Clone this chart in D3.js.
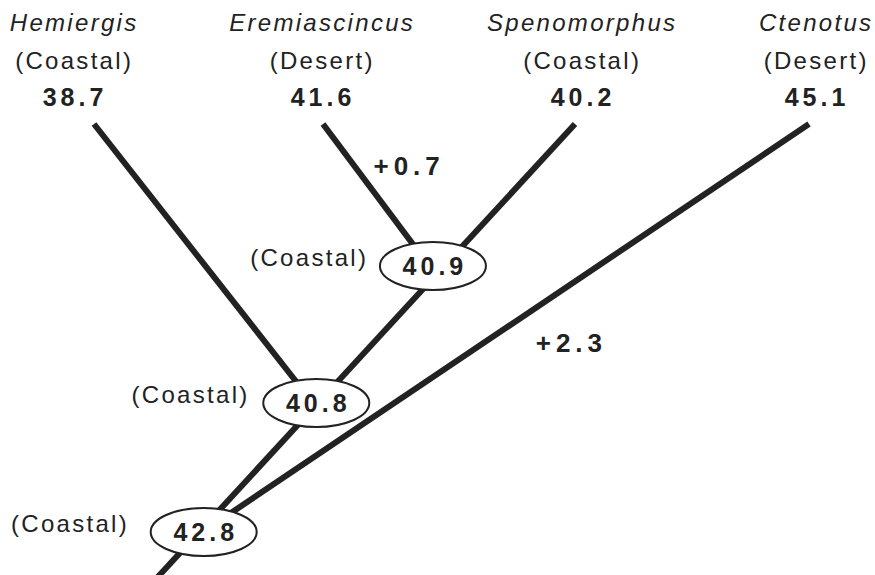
<!DOCTYPE html>
<html>
<head>
<meta charset="utf-8">
<script src="https://cdn.jsdelivr.net/npm/d3@7"></script>
<style>
  html, body { margin: 0; padding: 0; background: #fff; }
  svg { display: block; font-family: "Liberation Sans", Arial, sans-serif; }
</style>
</head>
<body>
<svg id="chart" width="875" height="575"></svg>
<script>
// ---- data ----
const taxa = ["Hemiergis", "Eremiascincus", "Spenomorphus", "Ctenotus"];
const habitats = ["Coastal", "Desert", "Coastal", "Desert"];
const tipValues = [38.7, 41.6, 40.2, 45.1];
const nodeNames = ["n409", "n408", "n428"];
const nodeValues = [40.9, 40.8, 42.8];
const nodeHabitats = ["Coastal", "Coastal", "Coastal"];
const changeBranches = ["Eremiascincus", "Ctenotus"];
const changeLabels = ["+0.7", "+2.3"];

// tree topology (child -> parent)
const parents = {
  Hemiergis: "n408", Eremiascincus: "n409", Spenomorphus: "n409", Ctenotus: "n428",
  n409: "n408", n408: "n428", n428: null
};
const nodeDepth = { n409: 1, n408: 2, n428: 3 };

// ---- layout scales ----
const ink = "#222";
const svg = d3.select("#chart");
const xTip = d3.scaleLinear().domain([0, 1, 2, 3]).range([94, 323, 575, 809]);
const xLabel = d3.scaleLinear().domain([0, 1, 2, 3]).range([73, 321, 581, 815]);
const yDepth = d3.scaleLinear().domain([0, 1, 2, 3, 4]).range([124, 275, 406, 538, 578]);
const yRow = d3.scaleOrdinal().domain(["name", "habitat", "value"]).range([31, 69, 106]);

// main stem: straight line from the Spenomorphus tip down to the root
const stemTop = [xTip(taxa.indexOf("Spenomorphus")), yDepth(0)];
const stemSlope = -0.921; // dx per dy along the stem
const stemX = y => stemTop[0] + (y - stemTop[1]) * stemSlope;

const pos = {};
taxa.forEach((t, i) => { pos[t] = [xTip(i), yDepth(0)]; });
nodeNames.forEach(n => { const y = yDepth(nodeDepth[n]); pos[n] = [stemX(y), y]; });
pos.root = [stemX(yDepth(4)), yDepth(4)];

const g = svg.append("g");

// branches
const branches = Object.keys(parents).filter(k => parents[k]).map(k => ({ child: k, parent: parents[k] }));
branches.push({ child: "n428", parent: "root" });
g.selectAll("line.branch").data(branches).join("line")
  .attr("class", "branch")
  .attr("x1", d => pos[d.child][0]).attr("y1", d => pos[d.child][1])
  .attr("x2", d => pos[d.parent][0]).attr("y2", d => pos[d.parent][1])
  .attr("stroke", ink).attr("stroke-width", 6).attr("stroke-linecap", "butt");

// tip labels
const txtLS = 2.3, numLS = 4;
const tips = taxa.map((t, i) => ({ name: t, habitat: habitats[i], value: tipValues[i], i }));
const tipG = g.selectAll("g.tip").data(tips).join("g").attr("class", "tip")
  .attr("transform", d => `translate(${xLabel(d.i)},0)`);
tipG.append("text").text(d => d.name)
  .attr("y", yRow("name")).attr("text-anchor", "middle").attr("dx", txtLS / 2)
  .attr("font-size", 24).attr("font-style", "italic").attr("letter-spacing", txtLS).attr("fill", ink);
tipG.append("text").text(d => `(${d.habitat})`)
  .attr("y", yRow("habitat")).attr("text-anchor", "middle").attr("dx", txtLS / 2)
  .attr("font-size", 24).attr("letter-spacing", txtLS).attr("fill", ink);
tipG.append("text").text(d => d.value.toFixed(1))
  .attr("y", yRow("value")).attr("text-anchor", "middle").attr("dx", numLS / 2)
  .attr("font-size", 25).attr("font-weight", "bold").attr("letter-spacing", numLS).attr("fill", ink);

// internal nodes
const nodes = nodeNames.map((n, i) => ({ id: n, value: nodeValues[i], habitat: nodeHabitats[i] }));
const rx = 53, ry = 24;
const nodeShift = { n409: [-3, -9], n408: [1, -3], n428: [10, -6] };
const nodeG = g.selectAll("g.node").data(nodes).join("g").attr("class", "node")
  .attr("transform", d => `translate(${pos[d.id][0] + nodeShift[d.id][0]},${pos[d.id][1] + nodeShift[d.id][1]})`);
nodeG.append("ellipse").attr("rx", rx).attr("ry", ry)
  .attr("fill", "#fff").attr("stroke", ink).attr("stroke-width", 2);
nodeG.append("text").text(d => d.value.toFixed(1))
  .attr("y", 9).attr("text-anchor", "middle").attr("dx", numLS / 2)
  .attr("font-size", 25).attr("font-weight", "bold").attr("letter-spacing", numLS).attr("fill", ink);
const labelGap = { n409: 14, n408: 16, n428: 24 };
nodeG.append("text").text(d => `(${d.habitat})`)
  .attr("x", d => -rx - labelGap[d.id]).attr("y", 0).attr("text-anchor", "end").attr("dx", txtLS)
  .attr("font-size", 24).attr("letter-spacing", txtLS).attr("fill", ink);

// change labels on branches
const changes = changeBranches.map((b, i) => ({ branch: b, label: changeLabels[i] }));
const changePlace = { Eremiascincus: { t: 0.28, dx: 52, dy: 9 }, Ctenotus: { t: 0.53, dx: 86, dy: 9 } };
const along = (d, k) => {
  const a = pos[d.branch], b = pos[parents[d.branch]], p = changePlace[d.branch];
  return a[k] + (b[k] - a[k]) * p.t + (k === 0 ? p.dx : p.dy);
};
g.selectAll("text.change").data(changes).join("text").attr("class", "change")
  .text(d => d.label)
  .attr("x", d => along(d, 0)).attr("y", d => along(d, 1))
  .attr("text-anchor", "middle").attr("dx", 2.5)
  .attr("font-size", 26).attr("font-weight", "bold").attr("letter-spacing", 5).attr("fill", ink);
</script>
</body>
</html>
